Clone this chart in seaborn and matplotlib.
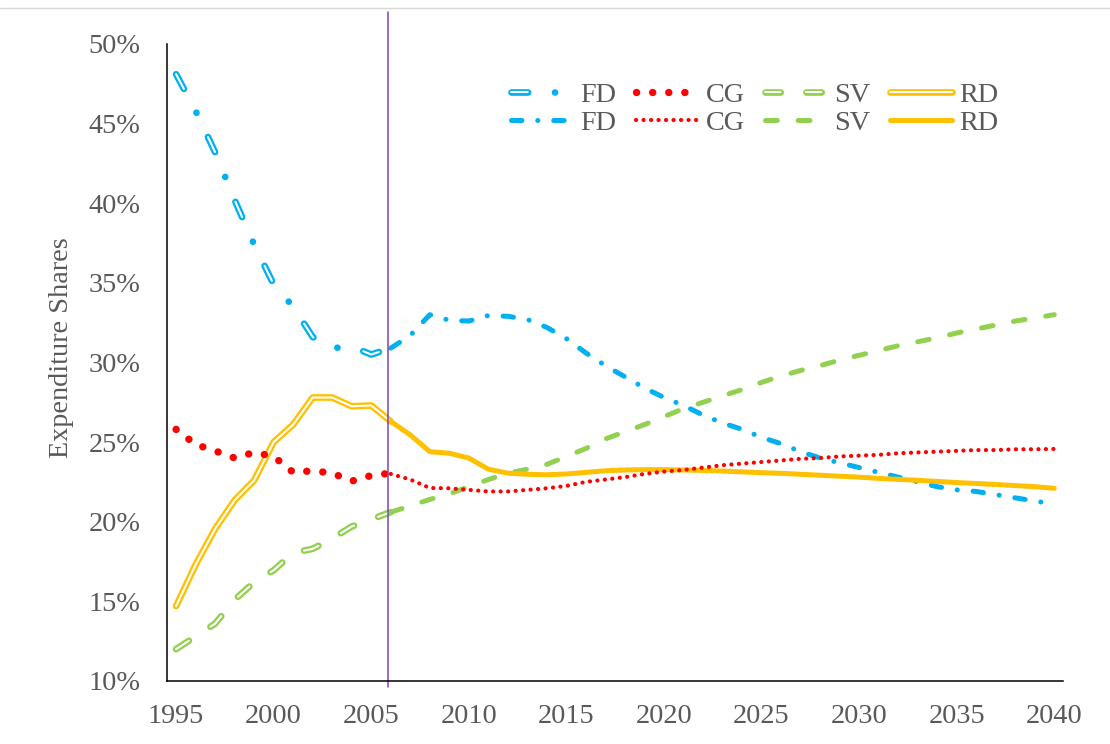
import matplotlib
matplotlib.use("Agg")
import matplotlib.pyplot as plt
from matplotlib.lines import Line2D
from matplotlib.legend_handler import HandlerTuple
import seaborn as sns

# historical (1995-2006) and projected (2006-2040) expenditure shares, in %
years_hist = list(range(1995, 2007))
years_proj = list(range(2006, 2041))

fd_hist = [48.1, 45.8, 43.2, 40.2, 37.4, 34.9, 33.5, 31.6, 30.9, 31.0, 30.5, 30.9]
cg_hist = [25.8, 24.85, 24.45, 24.0, 24.35, 24.1, 23.1, 23.2, 23.05, 22.55, 22.9, 23.05]
sv_hist = [12.0, 12.8, 13.6, 15.1, 16.2, 16.95, 18.05, 18.3, 18.95, 19.7, 20.15, 20.6]
rd_hist = [14.7, 17.3, 19.55, 21.35, 22.6, 25.0, 26.1, 27.8, 27.8, 27.25, 27.3, 26.3]

fd_proj = [30.9, 31.7, 33.0, 32.65, 32.6, 32.95, 32.9, 32.7, 32.2, 31.5,
           30.6, 29.8, 29.1, 28.4, 27.8, 27.3, 26.7, 26.2, 25.8, 25.3,
           24.9, 24.4, 24.0, 23.7, 23.4, 23.1, 22.8, 22.5, 22.2, 22.0,
           21.9, 21.7, 21.5, 21.3, 21.1]
cg_proj = [23.0, 22.65, 22.12, 22.1, 22.0, 21.9, 21.9, 22.0, 22.1, 22.25,
           22.5, 22.65, 22.8, 23.0, 23.15, 23.25, 23.4, 23.55, 23.65, 23.75,
           23.85, 23.95, 24.0, 24.1, 24.15, 24.2, 24.3, 24.35, 24.4, 24.45,
           24.5, 24.5, 24.55, 24.55, 24.57]
sv_proj = [20.6, 21.0, 21.4, 21.75, 22.2, 22.65, 23.05, 23.3, 23.6, 24.1,
           24.6, 25.2, 25.65, 26.1, 26.6, 27.1, 27.5, 27.9, 28.3, 28.75,
           29.15, 29.5, 29.8, 30.15, 30.45, 30.75, 31.05, 31.3, 31.55, 31.85,
           32.1, 32.35, 32.6, 32.8, 33.0]
rd_proj = [26.3, 25.45, 24.4, 24.3, 24.0, 23.3, 23.05, 22.98, 22.95, 23.0,
           23.1, 23.2, 23.25, 23.27, 23.27, 23.25, 23.22, 23.18, 23.13, 23.08,
           23.04, 22.98, 22.92, 22.86, 22.8, 22.72, 22.66, 22.6, 22.53, 22.46,
           22.4, 22.34, 22.27, 22.2, 22.1]

split_year = 2005.85
labels = ["FD", "CG", "SV", "RD"]
y_ticks = [10, 15, 20, 25, 30, 35, 40, 45, 50]
x_ticks = list(range(1995, 2041, 5))

sns.set_style("white")
plt.rcParams["font.family"] = ["Liberation Serif", "DejaVu Serif"]
plt.rcParams["lines.scale_dashes"] = False

BLUE, RED, GREEN, GOLD = "#00B0F0", "#FF0000", "#92D050", "#FFC000"
GREY = "#595959"
FS = 20.3

fig = plt.figure(figsize=(11.1, 7.44), dpi=100)
ax = fig.add_axes([0.1502, 0.0847, 0.8077, 0.8562])


def draw(x, y, **kw):
    sns.lineplot(x=x, y=y, ax=ax, **kw)
    return ax.lines[-1]


# historical: double (hollow) lines
rd_h = (draw(years_hist, rd_hist, color=GOLD, lw=4.8, solid_capstyle="round"),
        draw(years_hist, rd_hist, color="white", lw=1.5, solid_capstyle="round"))
fd_h = (draw(years_hist, fd_hist, color=BLUE, lw=4.8, dash_capstyle="round",
             linestyle=(0, (12, 19.3, 0.1, 19.3))),
        draw(years_hist, fd_hist, color="white", lw=1.5, dash_capstyle="round",
             linestyle=(0, (12, 38.7))))
sv_h = (draw(years_hist, sv_hist, color=GREEN, lw=4.8, dash_capstyle="round",
             linestyle=(0, (11, 18.5))),
        draw(years_hist, sv_hist, color="white", lw=1.5, dash_capstyle="round",
             linestyle=(0, (11, 18.5))))
cg_h = draw(years_hist, cg_hist, color=RED, lw=5.3, dash_capstyle="round",
            linestyle=(0, (0.1, 11.5)))

# projections
fd_p = draw(years_proj, fd_proj, color=BLUE, lw=3.6, dash_capstyle="round",
            linestyle=(0, (7.5, 11.4, 0.1, 11.4)))
sv_p = draw(years_proj, sv_proj, color=GREEN, lw=3.6, dash_capstyle="round",
            linestyle=(0, (8.5, 15)))
rd_p = draw(years_proj, rd_proj, color=GOLD, lw=3.6)
cg_p = draw(years_proj, cg_proj, color=RED, lw=3.0, dash_capstyle="round",
            linestyle=(0, (0.1, 5.3)))

ax.axvline(split_year, ymin=-0.0094, ymax=1.0507, clip_on=False,
           color="#7B45B5", lw=1.1)

ax.set_xlim(1994.52, 2040.46)
ax.set_ylim(10, 50)
ax.set_xticks(x_ticks)
ax.set_xticklabels([str(t) for t in x_ticks])
ax.set_yticks(y_ticks)
ax.set_yticklabels([f"{t}%" for t in y_ticks])
ax.tick_params(axis="both", length=0, labelsize=FS, labelcolor=GREY)
ax.tick_params(axis="x", pad=16.5)
ax.tick_params(axis="y", pad=19)
ax.set_xlabel("")
ax.set_ylabel("Expenditure Shares", fontsize=FS, color=GREY)
ax.yaxis.set_label_coords(-0.103, 0.523)

sns.despine(ax=ax)
for side in ["left", "bottom"]:
    ax.spines[side].set_color("black")
    ax.spines[side].set_linewidth(1.1)

handles = [fd_h, fd_p, cg_h, cg_p, sv_h, sv_p, rd_h, rd_p]
leg_labels = [labels[0]] * 2 + [labels[1]] * 2 + [labels[2]] * 2 + [labels[3]] * 2
ax.legend(handles, leg_labels, loc="upper left", bbox_to_anchor=(0.4604, 0.8898),
          bbox_transform=fig.transFigure, ncol=4, frameon=False, borderpad=0,
          borderaxespad=0, handlelength=2.2, handletextpad=0.25,
          columnspacing=0.72, labelspacing=0.1, fontsize=FS, labelcolor=GREY,
          handler_map={tuple: HandlerTuple(ndivide=1)})

fig.add_artist(Line2D([0, 1], [1 - 7.5 / 744] * 2, transform=fig.transFigure,
                      color="#D9D9D9", lw=1))

fig.savefig("out.png", dpi=100)
